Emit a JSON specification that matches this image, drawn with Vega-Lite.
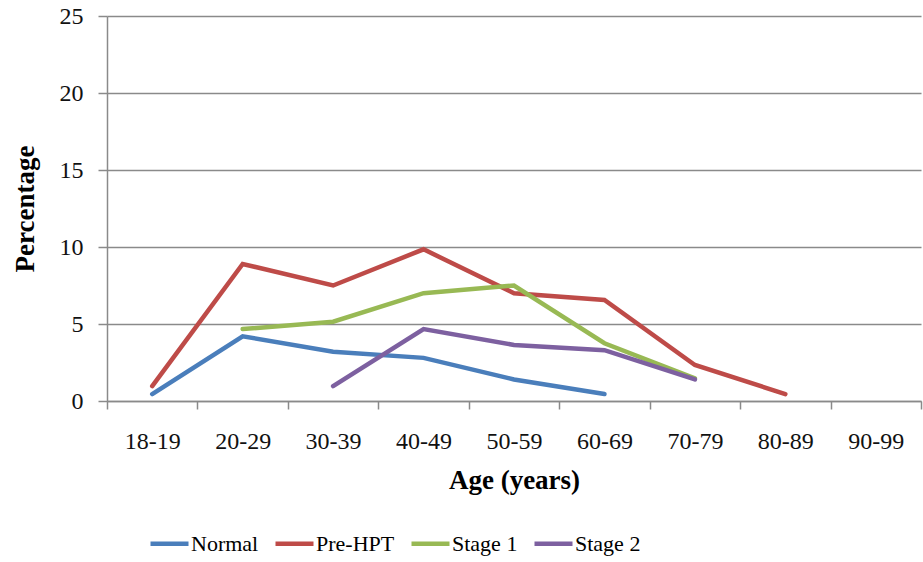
{
  "$schema": "https://vega.github.io/schema/vega-lite/v6.json",
  "width": 814,
  "height": 385,
  "autosize": "none",
  "padding": {"left": 107, "top": 16, "right": 2, "bottom": 161},
  "background": "white",
  "config": {
    "view": {"stroke": null},
    "font": "Liberation Serif"
  },
  "data": {
    "values": [
      {"age": "18-19", "group": "Normal", "pct": 0.45},
      {"age": "20-29", "group": "Normal", "pct": 4.2},
      {"age": "30-39", "group": "Normal", "pct": 3.2},
      {"age": "40-49", "group": "Normal", "pct": 2.8},
      {"age": "50-59", "group": "Normal", "pct": 1.4},
      {"age": "60-69", "group": "Normal", "pct": 0.45},
      {"age": "18-19", "group": "Pre-HPT", "pct": 0.97},
      {"age": "20-29", "group": "Pre-HPT", "pct": 8.9},
      {"age": "30-39", "group": "Pre-HPT", "pct": 7.5},
      {"age": "40-49", "group": "Pre-HPT", "pct": 9.85},
      {"age": "50-59", "group": "Pre-HPT", "pct": 7.0},
      {"age": "60-69", "group": "Pre-HPT", "pct": 6.56},
      {"age": "70-79", "group": "Pre-HPT", "pct": 2.34},
      {"age": "80-89", "group": "Pre-HPT", "pct": 0.45},
      {"age": "20-29", "group": "Stage 1", "pct": 4.67},
      {"age": "30-39", "group": "Stage 1", "pct": 5.15},
      {"age": "40-49", "group": "Stage 1", "pct": 7.0},
      {"age": "50-59", "group": "Stage 1", "pct": 7.5},
      {"age": "60-69", "group": "Stage 1", "pct": 3.75},
      {"age": "70-79", "group": "Stage 1", "pct": 1.47},
      {"age": "30-39", "group": "Stage 2", "pct": 0.97},
      {"age": "40-49", "group": "Stage 2", "pct": 4.67},
      {"age": "50-59", "group": "Stage 2", "pct": 3.64},
      {"age": "60-69", "group": "Stage 2", "pct": 3.3},
      {"age": "70-79", "group": "Stage 2", "pct": 1.4}
    ]
  },
  "mark": {"type": "line", "strokeWidth": 4.5, "strokeCap": "round", "strokeJoin": "miter"},
  "encoding": {
    "x": {
      "field": "age",
      "type": "ordinal",
      "bandPosition": 0.5,
      "scale": {
        "type": "band",
        "paddingInner": 0,
        "paddingOuter": 0,
        "domain": ["18-19", "20-29", "30-39", "40-49", "50-59", "60-69", "70-79", "80-89", "90-99"]
      },
      "axis": {
        "title": "Age (years)",
        "titleFont": "Liberation Serif",
        "titleFontSize": 27,
        "titleFontWeight": "bold",
        "titleColor": "#000000",
        "titlePadding": 14,
        "labelFont": "Liberation Serif",
        "labelFontSize": 24,
        "labelColor": "#111111",
        "labelAngle": 0,
        "labelPadding": 20,
        "tickBand": "extent",
        "tickSize": 8,
        "tickColor": "#8a8a8a",
        "tickWidth": 1.5,
        "domainColor": "#8a8a8a",
        "domainWidth": 1.5,
        "grid": false
      }
    },
    "y": {
      "field": "pct",
      "type": "quantitative",
      "scale": {"domain": [0, 25], "nice": false},
      "axis": {
        "title": "Percentage",
        "titleFont": "Liberation Serif",
        "titleFontSize": 27,
        "titleFontWeight": "bold",
        "titleColor": "#000000",
        "titlePadding": 20,
        "values": [0, 5, 10, 15, 20, 25],
        "labelFont": "Liberation Serif",
        "labelFontSize": 24,
        "labelColor": "#111111",
        "labelPadding": 15,
        "tickSize": 9,
        "tickColor": "#8a8a8a",
        "tickWidth": 1.5,
        "domainColor": "#8a8a8a",
        "domainWidth": 1.5,
        "grid": true,
        "gridColor": "#8a8a8a",
        "gridWidth": 1.5
      }
    },
    "color": {
      "field": "group",
      "type": "nominal",
      "scale": {
        "domain": ["Normal", "Pre-HPT", "Stage 1", "Stage 2"],
        "range": ["#4a7ebb", "#be4b48", "#98b954", "#7d60a0"]
      },
      "legend": {
        "title": null,
        "orient": "none",
        "direction": "horizontal",
        "legendX": 41,
        "legendY": 506,
        "symbolType": "stroke",
        "symbolSize": 1444,
        "symbolStrokeWidth": 4.5,
        "labelFont": "Liberation Serif",
        "labelFontSize": 22,
        "labelColor": "#000000",
        "labelOffset": 0,
        "columnPadding": 7,
        "padding": 0
      }
    }
  }
}
